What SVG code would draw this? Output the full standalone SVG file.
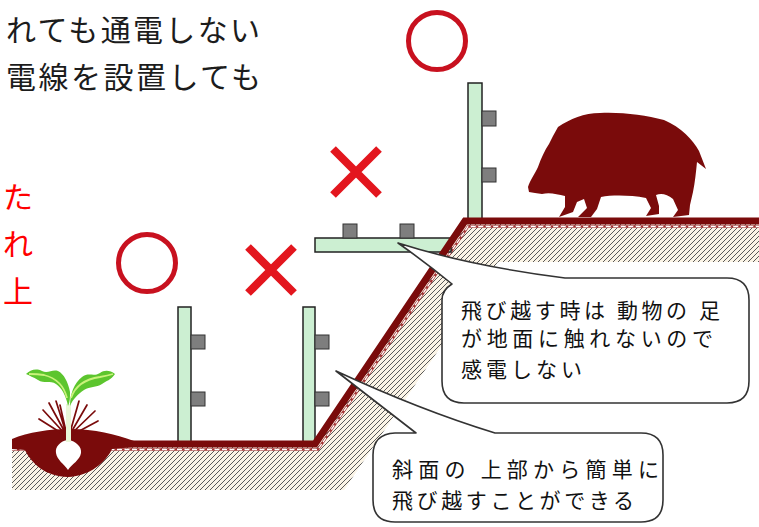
<svg xmlns="http://www.w3.org/2000/svg" width="759" height="527" viewBox="0 0 759 527">
<style>
  .jp { font-family: "Noto Sans CJK JP", "Noto Sans CJK SC", sans-serif; }
  .head { font-size: 30px; fill: #1c1c1c; }
  .red { font-size: 30px; fill: #ff0000; }
  .note { font-size: 21px; fill: #111; }
  .post { fill: #ccefd2; stroke: #222; stroke-width: 1.5; }
  .ins { fill: #7e7e7e; stroke: #333; stroke-width: 1; }
  .ok { fill: none; stroke: #c8111f; stroke-width: 5; }
  .ng { stroke: #e3161e; stroke-width: 8; }
  .bubble { fill: #fff; stroke: #333; stroke-width: 1.6; stroke-linejoin: round; }
  .soil { fill: #7a0b0b; }
  .leaf { fill: #5cc52e; }
</style>
<defs>
  <pattern id="hatch" patternUnits="userSpaceOnUse" width="5" height="5">
    <rect width="5" height="5" fill="#fbf4e6"/>
    <path d="M-1,1 L1,-1 M0,5 L5,0 M4,6 L6,4" stroke="#5a5a5a" stroke-width="1"/>
  </pattern>
</defs>
<rect width="759" height="527" fill="#fff"/>

<!-- heading lines -->
<g id="heading">
  <text class="jp head" x="6" y="41" textLength="254" lengthAdjust="spacing">れても通電しない</text>
  <text class="jp head" x="6" y="88" textLength="255" lengthAdjust="spacing">電線を設置しても</text>
</g>

<!-- red side text -->
<g id="side-note">
  <text class="jp red" x="3" y="208">た</text>
  <text class="jp red" x="3" y="255">れ</text>
  <text class="jp red" x="3" y="302">上</text>
</g>

<!-- soil body with slope -->
<g id="ground">
  <path d="M12,447 L315,447 L465,224 L759,224 L759,262 L498,262 L344,490 L12,490 Z" fill="url(#hatch)"/>
  <polyline points="12,449.5 318,449.5 468,226.5 759,226.5" fill="none" stroke="#a33434" stroke-width="2.6"/>
  <polyline points="12,449.5 318,449.5 468,226.5 759,226.5" fill="none" stroke="#fff" stroke-width="1.3" stroke-dasharray="5 2.5"/>
</g>

<!-- fence posts -->
<g id="fence-low-ok">
  <rect class="post" x="178" y="307" width="13" height="135"/>
  <rect class="ins" x="191" y="335" width="14" height="14"/>
  <rect class="ins" x="191" y="392" width="14" height="14"/>
</g>
<g id="fence-low-ng">
  <rect class="post" x="303" y="307" width="12" height="135"/>
  <rect class="ins" x="315" y="335" width="14" height="14"/>
  <rect class="ins" x="315" y="392" width="14" height="14"/>
</g>
<g id="fence-flat-ng">
  <rect class="post" x="315" y="238" width="136" height="14"/>
  <rect class="ins" x="343" y="224" width="14" height="14"/>
  <rect class="ins" x="400" y="224" width="14" height="14"/>
</g>
<g id="fence-top-ok">
  <rect class="post" x="468" y="83" width="14" height="136"/>
  <rect class="ins" x="482" y="111" width="14" height="15"/>
  <rect class="ins" x="482" y="168" width="14" height="14"/>
</g>

<!-- ground surface line -->
<g id="surface">
  <polyline points="12,444 315,444 465,221 759,221" fill="none" stroke="#7a0b0b" stroke-width="7"/>
</g>

<!-- turnip in the field -->
<g id="turnip">
  <path class="soil" d="M12,439 C28,432 50,429 70,429 C95,429 115,434 134,441 L134,447 L112,449 C106,462 90,476 68,477 C46,477 31,463 25,450 L12,449 Z"/>
  <g stroke="#7a0b0b" stroke-width="1.7" fill="none" stroke-linecap="round">
    <path d="M67,436 L43,410 M67,436 L49,403 M67,436 L56,401 M66,436 L39,419 M67,436 L60,405 M69,436 L79,401 M69,436 L87,405 M69,436 L95,411 M70,436 L98,421"/>
  </g>
  <path d="M68,440 C60,441 55,447 56,453 C57,460 64,464 68,470 C72,464 80,460 81,453 C82,447 76,441 68,440 Z" fill="#fff"/>
  <path d="M66,442 L66,404 L71,404 L71,442 Z" fill="#e9f7d8"/>
  <path class="leaf" d="M68,406 C66,396 62,388 56,384 C50,380 44,384 38,380 C33,377 30,376 26,374 C30,370 36,368 42,371 C48,374 52,369 58,371 C64,374 68,382 70,392 C70,398 70,402 68,406 Z"/>
  <path class="leaf" d="M70,406 C70,394 74,383 82,377 C88,372 94,377 100,373 C104,370 110,370 115,374 C111,380 106,381 102,384 C96,388 90,386 84,390 C78,394 73,399 70,406 Z"/>
  <path d="M67,398 C64,386 56,378 44,375 C38,374 33,374 29,374 M71,398 C75,386 86,379 100,377 C106,376 110,375 113,374" stroke="#c9f27a" stroke-width="1.8" fill="none"/>
</g>

<!-- wild boar on the upper level -->
<g id="boar">
  <path class="soil" d="M528,187 C530,180 535,174 538,167 C541,158 545,150 549,144 L553,136 L558,127 C570,119 584,113 600,113 C622,112 645,115 664,120 C681,127 693,140 699,151 L706,169 L697,162 C696,172 695,182 693,192 L690,205 L689,215 L673,217 L678,210 L673,199 C667,194 661,193 656,195 L659,206 L659,214 L646,216 L651,208 L646,198 C630,195 612,195 601,197 L597,209 L591,217 L578,217 L587,208 L584,199 L577,202 L573,212 L559,217 L565,207 L565,196 C557,194 549,192 542,194 L535,193 L529,192 Z"/>
</g>

<!-- judgement marks -->
<g id="mark-low-ok"><circle class="ok" cx="147" cy="263" r="28.5"/></g>
<g id="mark-low-ng"><path class="ng" d="M248,247 L294,293 M294,247 L248,293"/></g>
<g id="mark-flat-ng"><path class="ng" d="M333,149 L379,195 M379,149 L333,195"/></g>
<g id="mark-top-ok"><circle class="ok" cx="437" cy="41" r="28.5"/></g>

<!-- callouts -->
<g id="callout-upper">
  <path class="bubble" d="M398,243 Q470,266 565,278 L727,278 Q749,278 749,300 L749,381 Q749,403 727,403 L464,403 Q442,403 442,381 L442,300 Q442,290 452,284 Q425,262 398,243 Z"/>
  <text class="jp note" x="461" y="318" textLength="259" lengthAdjust="spacing">飛び越す時は 動物の 足</text>
  <text class="jp note" x="461" y="346" textLength="252" lengthAdjust="spacing">が地面に触れないので</text>
  <text class="jp note" x="461" y="377" textLength="121" lengthAdjust="spacing">感電しない</text>
</g>
<g id="callout-lower">
  <path class="bubble" d="M336,371 Q420,410 495,433 L641,433 Q663,433 663,455 L663,500 Q663,522 641,522 L395,522 Q373,522 373,500 L373,455 Q373,434 395,433 L416,433 Z"/>
  <text class="jp note" x="392" y="477" textLength="267" lengthAdjust="spacing">斜面の 上部から簡単に</text>
  <text class="jp note" x="392" y="508" textLength="242" lengthAdjust="spacing">飛び越すことができる</text>
</g>
</svg>
